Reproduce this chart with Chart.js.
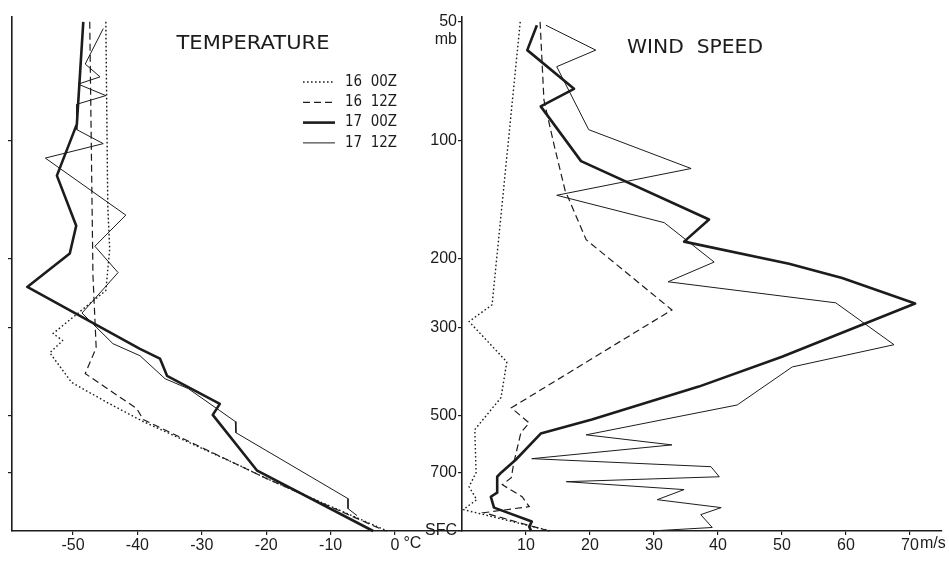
<!DOCTYPE html>
<html>
<head>
<meta charset="utf-8">
<title>Temperature and wind speed soundings</title>
<script src="https://cdn.jsdelivr.net/npm/chart.js@4.4.1/dist/chart.umd.min.js"></script>
<style>
  html, body { margin: 0; padding: 0; background: #ffffff; }
  #wrap { position: relative; width: 949px; height: 561px; overflow: hidden; }
  #wrap canvas { position: absolute; left: 0; top: 0; }
</style>
</head>
<body>
<div id="wrap">
  <canvas id="tempChart" width="949" height="561"></canvas>
  <canvas id="windChart" width="949" height="561"></canvas>
</div>
<script>
// ---- pressure axis (mb); the lowest level is the surface ----
const SFC = 985;
const pressureTicks = [50, 100, 200, 300, 500, 700, SFC];
const tempTicks = [-50, -40, -30, -20, -10, 0];
const windTicks = [10, 20, 30, 40, 50, 60, 70];
const seriesNames = ['16  00Z', '16  12Z', '17  00Z', '17  12Z'];

// ---- temperature soundings: pressure (mb) and temperature (°C) ----
const temp1600P = [50, 147, 189, 241, 310, 323, 347, 413, 468, 519, 672, 725, SFC];
const temp1600T = [-44.9, -44.6, -44.3, -44.9, -53.1, -51.6, -53.6, -50.2, -44.3, -39.1, -24.1, -19.9, -1.2];

const temp1612P = [50, 221, 337, 392, 481, 513, 725, SFC];
const temp1612T = [-47.4, -46.9, -46.4, -48.1, -40.1, -39.1, -19.9, -1.5];

const temp1700P = [50, 91, 123, 165, 194, 236, 339, 359, 397, 468, 499, 692, SFC];
const temp1700T = [-48.4, -49.4, -52.5, -49.5, -50.5, -57.1, -39.6, -36.5, -35.4, -27.2, -28.3, -21.4, -3.4];

const temp1712P = [52, 64, 69, 72, 77, 81, 94, 102, 111, 155, 186, 217, 275, 329, 353, 404, 428, 487, 519, 554, 815, 864, 900];
const temp1712T = [-45.3, -48.1, -45.8, -49.2, -44.9, -49.4, -49.4, -45.3, -54.3, -41.8, -46.6, -43.0, -48.6, -43.8, -39.6, -35.7, -32.1, -27.2, -24.8, -24.7, -7.3, -7.3, -5.9];

// ---- wind speed soundings: pressure (mb) and speed (m/s) ----
const wind1600P = [50, 262, 289, 366, 451, 544, 700, 760, 820, 869, SFC];
const wind1600V = [9.1, 4.7, 1.1, 7.0, 6.1, 2.0, 2.2, 1.1, 2.3, 0.2, 13.9];

const wind1612P = [50, 79, 103, 134, 179, 270, 479, 523, 554, 660, 721, 751, 806, 854, 885, SFC];
const wind1612V = [12.2, 12.8, 14.4, 16.1, 19.4, 32.8, 7.7, 10.5, 9.2, 8.1, 7.7, 6.3, 9.4, 10.5, 3.4, 13.6];

const wind1700P = [51, 59, 74, 82, 113, 159, 181, 206, 224, 260, 355, 423, 513, 557, 649, 700, 717, 787, 806, 859, 932, 960, SFC];
const wind1700V = [11.7, 10.2, 17.5, 12.3, 18.6, 38.6, 34.7, 51.1, 59.4, 70.8, 50.0, 37.0, 20.3, 12.3, 8.4, 6.1, 5.5, 5.5, 4.5, 5.0, 10.9, 10.5, 10.8];

const wind1712P = [51, 59, 65, 94, 118, 138, 162, 204, 229, 259, 331, 377, 471, 561, 595, 645, 676, 717, 738, 773, 820, 859, 895, 965, SFC];
const wind1712V = [13.1, 20.9, 14.8, 19.8, 35.8, 14.8, 31.6, 39.4, 32.2, 58.4, 67.5, 51.6, 43.0, 19.4, 32.8, 10.9, 38.9, 40.2, 16.3, 34.7, 30.5, 40.5, 37.3, 39.1, 29.5];

// ---- drawing ----
const INK = '#1c1c1c';
const TICK_FONT = { family: "'Liberation Sans', Arial, sans-serif", size: 16 };

// line style for each sounding time: dotted, dashed, heavy, light
const lineStyles = [
  { borderDash: [1.6, 2.4], borderWidth: 1.4, borderJoinStyle: 'round' },
  { borderDash: [7, 4], borderWidth: 1.2, borderJoinStyle: 'miter' },
  { borderDash: [], borderWidth: 2.6, borderJoinStyle: 'round' },
  { borderDash: [], borderWidth: 1.0, borderJoinStyle: 'miter' }
];

function toPoints(values, pressures) {
  return values.map((v, i) => ({ x: v, y: pressures[i] }));
}

function makeDatasets(pairs) {
  return pairs.map(([values, pressures], i) => Object.assign({
    label: seriesNames[i],
    data: toPoints(values, pressures),
    showLine: true,
    borderColor: INK,
    backgroundColor: INK,
    pointRadius: 0,
    tension: 0,
    clip: false
  }, lineStyles[i]));
}

function pressureScale(withLabels) {
  return {
    type: 'logarithmic',
    reverse: true,
    min: 48.6,
    max: SFC,
    afterBuildTicks: s => {
      const list = withLabels ? pressureTicks : pressureTicks.slice(1, -1);
      s.ticks = list.map(v => ({ value: v }));
    },
    afterFit: s => { s.width = withLabels ? 62 : 0; },
    border: { display: true, color: INK, width: 1.6 },
    grid: { drawOnChartArea: false, drawTicks: true, tickLength: 4, color: INK, lineWidth: 1.2 },
    ticks: {
      display: withLabels,
      padding: 1,
      color: INK,
      font: TICK_FONT,
      autoSkip: false,
      callback: v => (v === SFC ? 'SFC' : String(v))
    }
  };
}

function valueScale(min, max, ticks) {
  return {
    type: 'linear',
    min: min,
    max: max,
    afterBuildTicks: s => { s.ticks = ticks.map(v => ({ value: v })); },
    afterFit: s => { s.height = 30; },
    border: { display: true, color: INK, width: 1.6 },
    grid: { drawOnChartArea: false, drawTicks: true, tickLength: 4, color: INK, lineWidth: 1.2 },
    ticks: {
      padding: 1,
      color: INK,
      font: TICK_FONT,
      autoSkip: false,
      maxRotation: 0,
      callback: v => String(v)
    }
  };
}

// text squeezed or stretched to a given width, like hand lettering
function drawLettering(ctx, text, x, y, width, font, align) {
  ctx.save();
  ctx.font = font;
  ctx.fillStyle = INK;
  ctx.textBaseline = 'middle';
  ctx.textAlign = 'left';
  const w = ctx.measureText(text).width;
  const k = width / w;
  const left = align === 'center' ? x - width / 2 : x;
  ctx.translate(left, y);
  ctx.scale(k, 1);
  ctx.fillText(text, 0, 0);
  ctx.restore();
}

// unit appended to the right of a value-axis tick label
function drawUnit(chart, scaleId, value, unit, gap) {
  const scale = chart.scales[scaleId];
  const ctx = chart.ctx;
  ctx.save();
  ctx.font = `${TICK_FONT.size}px ${TICK_FONT.family}`;
  ctx.fillStyle = INK;
  ctx.textBaseline = 'top';
  ctx.textAlign = 'left';
  const label = String(value);
  const half = ctx.measureText(label).width / 2;
  const x = scale.getPixelForValue(value) + half + gap;
  const y = scale.top + 4 + 1;
  ctx.fillText(unit, x, y);
  ctx.restore();
}

const tempDecor = {
  id: 'tempDecor',
  afterDraw(chart) {
    const ctx = chart.ctx;
    drawLettering(ctx, 'TEMPERATURE', 253, 44, 153, "19px 'DejaVu Sans', sans-serif", 'center');
    // legend: a short sample of each line style with its time label
    chart.data.datasets.forEach((ds, i) => {
      const y = 82 + i * 20.3;
      ctx.save();
      ctx.strokeStyle = ds.borderColor;
      ctx.lineWidth = ds.borderWidth;
      ctx.setLineDash(ds.borderDash);
      ctx.beginPath();
      ctx.moveTo(303, y);
      ctx.lineTo(335, y);
      ctx.stroke();
      ctx.restore();
      drawLettering(ctx, ds.label, 345, y, 52, "15px 'DejaVu Sans', sans-serif", 'left');
    });
    drawUnit(chart, 'x', 0, '°C', 4);
  }
};

const windDecor = {
  id: 'windDecor',
  afterDraw(chart) {
    const ctx = chart.ctx;
    drawLettering(ctx, 'WIND  SPEED', 695, 48, 136, "19px 'DejaVu Sans', sans-serif", 'center');
    // pressure unit under the top tick label
    const y = chart.scales.y;
    ctx.save();
    ctx.font = `${TICK_FONT.size}px ${TICK_FONT.family}`;
    ctx.fillStyle = INK;
    ctx.textAlign = 'right';
    ctx.textBaseline = 'middle';
    ctx.fillText('mb', y.right - 5, y.getPixelForValue(50) + 18);
    ctx.restore();
    drawUnit(chart, 'x', 70, 'm/s', 1);
  }
};

const common = {
  responsive: false,
  animation: false,
  devicePixelRatio: 1,
  events: [],
  plugins: { legend: { display: false }, tooltip: { enabled: false } }
};

// left panel: temperature
new Chart(document.getElementById('tempChart'), {
  type: 'scatter',
  data: {
    datasets: makeDatasets([
      [temp1600T, temp1600P],
      [temp1612T, temp1612P],
      [temp1700T, temp1700P],
      [temp1712T, temp1712P]
    ])
  },
  options: Object.assign({}, common, {
    layout: { autoPadding: false, padding: { left: 12, right: 487, top: 17, bottom: 0 } },
    scales: {
      x: valueScale(-59.47, 10.4, tempTicks),
      y: pressureScale(false)
    }
  }),
  plugins: [tempDecor]
});

// right panel: wind speed, with the labelled pressure axis on its left
new Chart(document.getElementById('windChart'), {
  type: 'scatter',
  data: {
    datasets: makeDatasets([
      [wind1600V, wind1600P],
      [wind1612V, wind1612P],
      [wind1700V, wind1700P],
      [wind1712V, wind1712P]
    ])
  },
  options: Object.assign({}, common, {
    layout: { autoPadding: false, padding: { left: 400, right: 7, top: 17, bottom: 0 } },
    scales: {
      x: valueScale(0, 75, windTicks),
      y: pressureScale(true)
    }
  }),
  plugins: [windDecor]
});
</script>
</body>
</html>
